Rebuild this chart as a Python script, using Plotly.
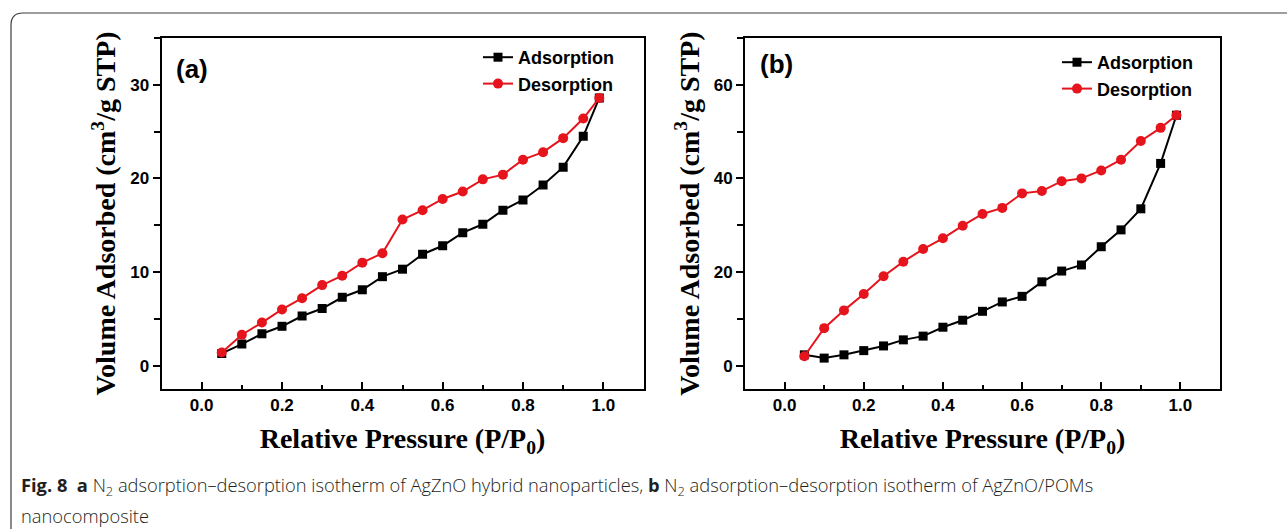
import plotly.graph_objects as go

# ---------------- data ----------------
pressure = [0.05, 0.10, 0.15, 0.20, 0.25, 0.30, 0.35, 0.40, 0.45, 0.50,
            0.55, 0.60, 0.65, 0.70, 0.75, 0.80, 0.85, 0.90, 0.95, 0.99]

a_adsorption = [1.3, 2.3, 3.4, 4.2, 5.3, 6.1, 7.3, 8.1, 9.5, 10.3,
                11.9, 12.8, 14.2, 15.1, 16.6, 17.7, 19.3, 21.2, 24.5, 28.6]
a_desorption = [1.4, 3.3, 4.6, 6.0, 7.2, 8.6, 9.6, 11.0, 12.0, 15.6,
                16.6, 17.8, 18.6, 19.9, 20.4, 22.0, 22.8, 24.3, 26.4, 28.6]

b_adsorption = [2.3, 1.6, 2.3, 3.2, 4.2, 5.5, 6.3, 8.2, 9.7, 11.6,
                13.6, 14.8, 17.9, 20.2, 21.5, 25.4, 29.0, 33.5, 43.2, 53.5]
b_desorption = [2.0, 8.0, 11.8, 15.3, 19.1, 22.2, 24.9, 27.2, 29.9, 32.4,
                33.7, 36.8, 37.3, 39.4, 40.0, 41.7, 44.0, 48.0, 50.8, 53.5]

series_names = ["Adsorption", "Desorption"]
panel_labels = ["(a)", "(b)"]
x_title = "Relative Pressure (P/P<sub>0</sub>)"
y_title = "Volume Adsorbed (cm<sup>3</sup>/g STP)"
caption_line1 = ("<b>Fig. 8</b>  <b>a</b> N<sub>2</sub> adsorption\u2013desorption isotherm of AgZnO "
                 "hybrid nanoparticles, <b>b</b> N<sub>2</sub> adsorption\u2013desorption isotherm of "
                 "AgZnO/POMs")
caption_line2 = "nanocomposite"

# ---------------- style ----------------
W, H = 1287, 529
BLACK = "#000000"
RED = "#e6141c"
TICK_FONT = dict(family="Liberation Sans, Arial", size=17, color="black", weight="bold")
TITLE_FONT = dict(family="Liberation Serif, Times New Roman", size=28, color="black", weight="bold")
LEG_FONT = dict(family="Liberation Sans, Arial", size=18, color="black", weight="bold")


def px_x(p):
    return p / W


def px_y(p):
    return 1 - p / H


fig = go.Figure()

panels = [
    dict(ads=a_adsorption, des=a_desorption, xa="x", ya="y", leg="legend"),
    dict(ads=b_adsorption, des=b_desorption, xa="x2", ya="y2", leg="legend2"),
]
for pnl in panels:
    fig.add_trace(go.Scatter(
        x=pressure, y=pnl["ads"], name=series_names[0], mode="lines+markers",
        line=dict(color=BLACK, width=2),
        marker=dict(symbol="square", size=9, color=BLACK),
        xaxis=pnl["xa"], yaxis=pnl["ya"], legend=pnl["leg"]))
    fig.add_trace(go.Scatter(
        x=pressure, y=pnl["des"], name=series_names[1], mode="lines+markers",
        line=dict(color=RED, width=2),
        marker=dict(symbol="circle", size=10, color=RED),
        xaxis=pnl["xa"], yaxis=pnl["ya"], legend=pnl["leg"]))

top, bottom = 38, 389
dom_a = [px_x(161.5), px_x(643.5)]
dom_b = [px_x(745), px_x(1220)]
ydom = [px_y(bottom), px_y(top)]

xcommon = dict(range=[-0.1, 1.1], dtick=0.2, tick0=0, tickformat=".1f",
               ticks="inside", ticklen=7, tickwidth=2, tickcolor="black",
               minor=dict(dtick=0.1, tick0=0, ticks="inside", ticklen=4, tickwidth=2, tickcolor="black"),
               showline=True, linewidth=2, linecolor="black", mirror=True,
               showgrid=False, zeroline=False, tickfont=TICK_FONT,
               title=dict(text=x_title, font=TITLE_FONT, standoff=14))
ycommon = dict(ticks="outside", ticklen=7, tickwidth=2, tickcolor="black",
               showline=True, linewidth=2, linecolor="black", mirror=True,
               showgrid=False, zeroline=False, tickfont=TICK_FONT,
               title=dict(text=y_title, font=TITLE_FONT, standoff=6))

fig.update_layout(
    width=W, height=H,
    margin=dict(l=0, r=0, t=0, b=0),
    paper_bgcolor="white", plot_bgcolor="white",
    xaxis=dict(domain=dom_a, anchor="y", **xcommon),
    yaxis=dict(domain=ydom, anchor="x", range=[-2.5, 35], dtick=10, tick0=0,
               minor=dict(dtick=5, tick0=0, ticks="outside", ticklen=6, tickwidth=2, tickcolor="black"),
               **ycommon),
    xaxis2=dict(domain=dom_b, anchor="y2", **xcommon),
    yaxis2=dict(domain=ydom, anchor="x2", range=[-5, 70], dtick=20, tick0=0,
                minor=dict(dtick=10, tick0=0, ticks="outside", ticklen=6, tickwidth=2, tickcolor="black"),
                **ycommon),
    legend=dict(x=px_x(478), y=px_y(39), xanchor="left", yanchor="top",
                font=LEG_FONT, bgcolor="rgba(0,0,0,0)", borderwidth=0,
                itemwidth=30, tracegroupgap=0),
    legend2=dict(x=px_x(1057), y=px_y(44), xanchor="left", yanchor="top",
                 font=LEG_FONT, bgcolor="rgba(0,0,0,0)", borderwidth=0,
                 itemwidth=30, tracegroupgap=0),
    showlegend=True,
)

# panel labels
for lbl, xp, yp in [(panel_labels[0], 174, 69), (panel_labels[1], 758, 64)]:
    fig.add_annotation(text=lbl, xref="paper", yref="paper", x=px_x(xp), y=px_y(yp),
                       xanchor="left", yanchor="middle", showarrow=False,
                       font=dict(family="Liberation Sans, Arial", size=26, color="black", weight="bold"))

# caption
CAP_FONT = dict(family="Open Sans", size=18.3, color="#231f20", weight=300)
fig.add_annotation(text=caption_line1, xref="paper", yref="paper", x=px_x(19), y=px_y(486),
                   xanchor="left", yanchor="middle", showarrow=False, font=CAP_FONT)
fig.add_annotation(text=caption_line2, xref="paper", yref="paper", x=px_x(19), y=px_y(515),
                   xanchor="left", yanchor="middle", showarrow=False, font=CAP_FONT)

# outer frame (left and top edges with rounded corner)
x0, y0, r = 11, 13, 12
path = (f"M {px_x(x0)} {px_y(H + 2)} L {px_x(x0)} {px_y(y0 + r)} "
        f"Q {px_x(x0)} {px_y(y0)} {px_x(x0 + r)} {px_y(y0)} L {px_x(W + 2)} {px_y(y0)}")
fig.add_shape(type="path", path=path, xref="paper", yref="paper",
              line=dict(color="#3c3c3c", width=1.2))

fig.write_html("out.html")
